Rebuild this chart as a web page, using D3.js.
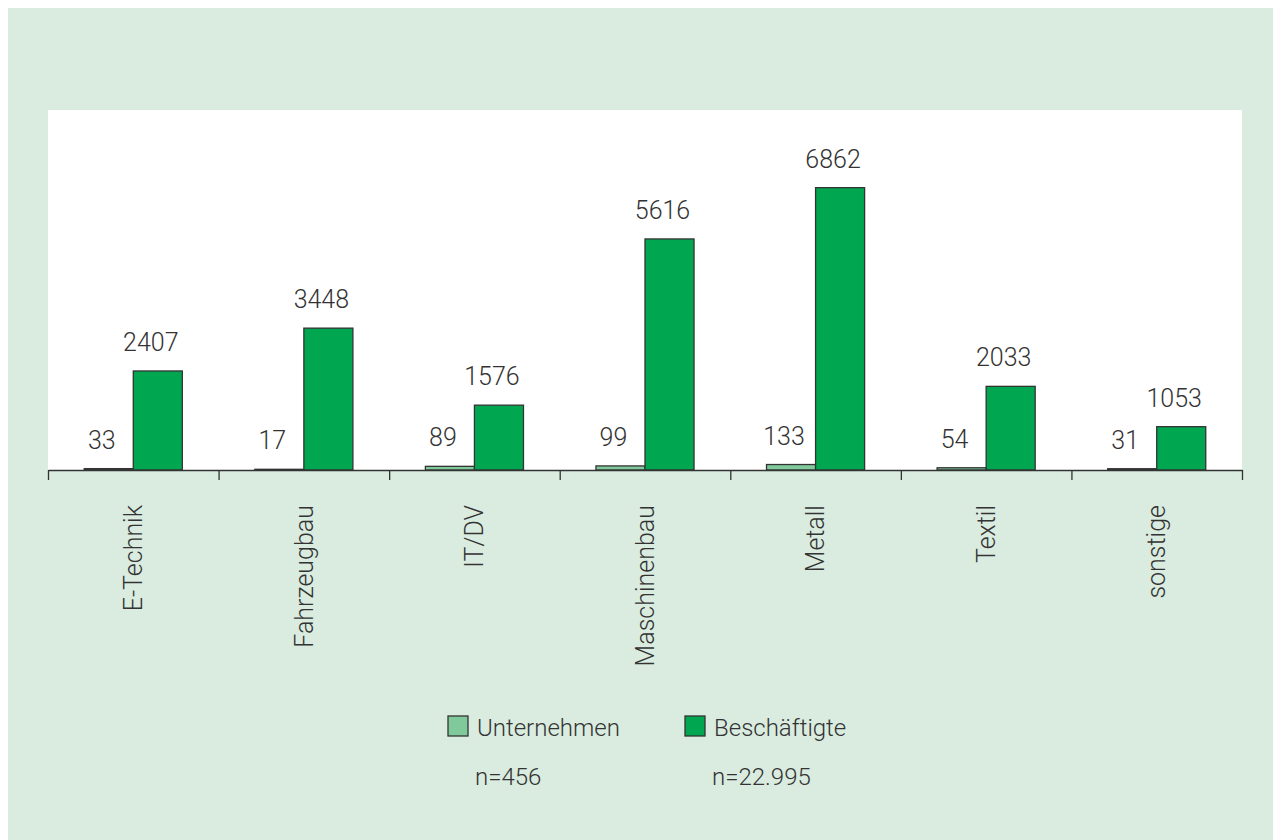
<!DOCTYPE html>
<html>
<head>
<meta charset="utf-8">
<script src="https://cdn.jsdelivr.net/npm/d3@7"></script>
<style>
  body { margin: 0; background: #fff; }
  text { font-family: Roboto, "Liberation Sans", sans-serif; font-weight: 300; fill: #333; }
</style>
</head>
<body>
<svg id="chart" width="1273" height="840"></svg>
<script>
var categories = ["E-Technik", "Fahrzeugbau", "IT/DV", "Maschinenbau", "Metall", "Textil", "sonstige"];
var seriesNames = ["Unternehmen", "Beschäftigte"];
var unternehmen = [33, 17, 89, 99, 133, 54, 31];
var beschaeftigte = [2407, 3448, 1576, 5616, 6862, 2033, 1053];
var totals = ["n=456", "n=22.995"];
var colors = ["#80c99b", "#00a650"];

var svg = d3.select("#chart");

// green outer frame
svg.append("rect").attr("x", 8).attr("y", 8).attr("width", 1265).attr("height", 832).attr("fill", "#d9ecdf");

var margin = {top: 110, left: 48, right: 1242, bottom: 470};
svg.append("rect")
    .attr("x", margin.left).attr("y", margin.top)
    .attr("width", margin.right - margin.left).attr("height", margin.bottom - margin.top)
    .attr("fill", "#fff");

var x0 = d3.scaleBand().domain(categories).range([margin.left, margin.right])
    .paddingInner(0.425).paddingOuter(0.2125);
var x1 = d3.scaleBand().domain(seriesNames).range([0, x0.bandwidth()]);
var y = d3.scaleLinear().domain([0, 8750]).range([margin.bottom, margin.top]);

var data = categories.map(function(c, i) {
  return {cat: c, values: [
    {key: seriesNames[0], value: unternehmen[i], color: colors[0]},
    {key: seriesNames[1], value: beschaeftigte[i], color: colors[1]}
  ]};
});

var group = svg.selectAll(".group").data(data).enter().append("g")
    .attr("class", "group")
    .attr("transform", function(d) { return "translate(" + x0(d.cat) + ",0)"; });

group.selectAll("rect").data(function(d) { return d.values; }).enter().append("rect")
    .attr("x", function(d) { return x1(d.key); })
    .attr("y", function(d) { return y(d.value); })
    .attr("width", x1.bandwidth())
    .attr("height", function(d) { return y(0) - y(d.value); })
    .attr("fill", function(d) { return d.color; })
    .attr("stroke", "#333")
    .attr("stroke-width", 1.3);

group.selectAll(".val").data(function(d) { return d.values; }).enter().append("text")
    .attr("class", "val")
    .attr("x", function(d) { return x1(d.key) + x1.bandwidth() / 2 - 7; })
    .attr("y", function(d) { return y(d.value) - 20; })
    .attr("text-anchor", "middle")
    .style("font-size", "25px")
    .text(function(d) { return d.value; });

// axis line with boundary ticks
var xb = d3.scaleLinear().domain([0, categories.length]).range([margin.left, margin.right]);
svg.append("g")
    .attr("transform", "translate(0," + margin.bottom + ")")
    .call(d3.axisBottom(xb).tickValues(d3.range(categories.length + 1)).tickFormat("").tickSize(10).tickSizeOuter(0))
    .call(function(g) {
      g.select(".domain").attr("stroke", "#333").attr("stroke-width", 1.5);
      g.selectAll(".tick line").attr("stroke", "#333").attr("stroke-width", 1.3);
    });

// category labels
var xa = svg.append("g")
    .attr("transform", "translate(0," + margin.bottom + ")")
    .call(d3.axisBottom(x0).tickSize(0).tickPadding(0));
xa.select(".domain").remove();
xa.selectAll(".tick text")
    .attr("transform", "rotate(-90)")
    .attr("x", -35).attr("y", 0).attr("dy", "0.35em")
    .attr("text-anchor", "end")
    .style("font-size", "25px")
    .style("font-family", "Roboto, 'Liberation Sans', sans-serif");

// legend
var legX = [448, 685];
var legend = svg.selectAll(".leg").data(seriesNames).enter().append("g")
    .attr("class", "leg")
    .attr("transform", function(d, i) { return "translate(" + legX[i] + ",716)"; });
legend.append("rect").attr("width", 20).attr("height", 20)
    .attr("fill", function(d, i) { return colors[i]; })
    .attr("stroke", "#333").attr("stroke-width", 1.3);
legend.append("text").attr("x", 29).attr("y", 20)
    .style("font-size", "24px").text(function(d) { return d; });

svg.selectAll(".tot").data(totals).enter().append("text")
    .attr("class", "tot")
    .attr("x", function(d, i) { return legX[i] + 27; })
    .attr("y", 785)
    .style("font-size", "24px").text(function(d) { return d; });
</script>
</body>
</html>
